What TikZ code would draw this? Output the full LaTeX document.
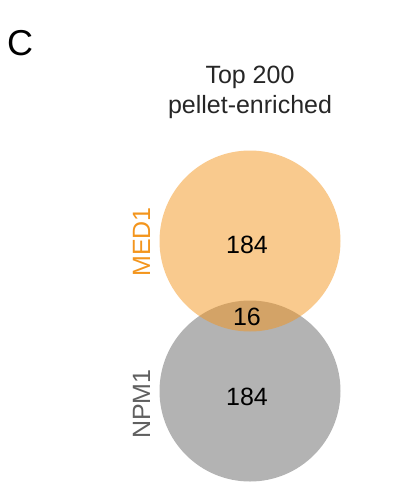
\documentclass[tikz,border=0pt]{standalone}
\usepackage{fontspec}
\setmainfont{Liberation Sans}
\usepackage{tikz}
\usetikzlibrary{positioning}
\definecolor{medorange}{HTML}{F3951D}
\definecolor{npmgray}{HTML}{B3B3B3}
\definecolor{npmtext}{HTML}{606060}
\tikzset{
  venn/.style={circle,minimum size=181pt,inner sep=0pt},
  setA/.style={venn,fill=medorange,fill opacity=0.5},
  setB/.style={venn,fill=npmgray},
  count/.style={anchor=base,font=\fontsize{25}{30}\selectfont},
  setlabel/.style={anchor=base,rotate=90,font=\fontsize{25}{30}\selectfont},
  heading/.style={anchor=base,font=\fontsize{25}{30}\selectfont,text=black!85}
}
\begin{document}
\begin{tikzpicture}[x=1pt,y=-1pt]
\useasboundingbox (0,0) rectangle (414,498);
\node[anchor=base west,inner sep=0pt,font=\fontsize{36}{40}\selectfont] (panel) at (7,55) {C};
\node[heading] (title1) at (250,83) {Top 200};
\node[heading] (title2) at (250,113) {pellet-enriched};
% sets
\node[setB] (npm1) at (250,391) {};
\node[setA] (med1) at (250,241) {};
\node[count] (onlyA) at (247,253) {184};
\node[count] (both) at (247,325) {16};
\node[count] (onlyB) at (247,405) {184};
\node[setlabel,text=medorange] (labA) at (150,242) {MED1};
\node[setlabel,text=npmtext] (labB) at (150,404) {NPM1};
\end{tikzpicture}
\end{document}
